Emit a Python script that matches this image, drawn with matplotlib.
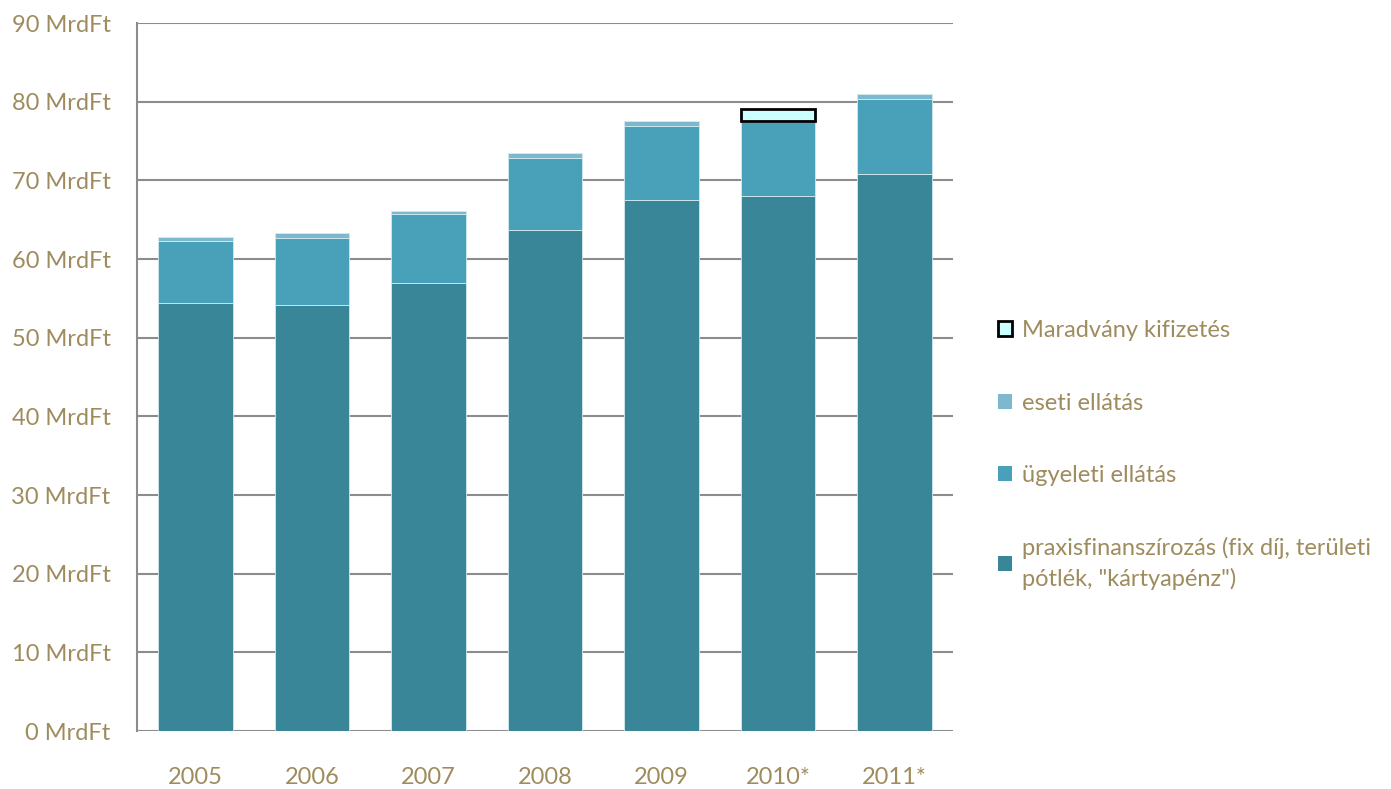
import matplotlib.pyplot as plt
import numpy as np
from matplotlib.patches import Patch

# Adatok (MrdFt)
evek = ['2005', '2006', '2007', '2008', '2009', '2010*', '2011*']
praxis = [54.4, 54.1, 56.9, 63.7, 67.5, 68.0, 70.85]
ugyeleti = [7.95, 8.6, 8.8, 9.2, 9.45, 9.4, 9.55]
eseti = [0.5, 0.55, 0.45, 0.55, 0.6, 0.4, 0.6]
maradvany = [0, 0, 0, 0, 0, 1.5, 0]

y_ticks = [0, 10, 20, 30, 40, 50, 60, 70, 80, 90]

szoveg_szin = '#9E8C5E'
c_praxis = '#3A8699'
c_ugy = '#48A1B9'
c_eseti = '#7DB9CE'
c_mar = '#CCFFFF'

plt.rcParams['font.family'] = ['Lato', 'DejaVu Sans']

fig = plt.figure(figsize=(13.91, 7.89), dpi=100)
ax = fig.add_axes([0.0985, 0.0735, 0.5865, 0.8973])

x = np.arange(len(evek))
w = 0.64
b1 = np.array(praxis)
b2 = b1 + np.array(ugyeleti)
b3 = b2 + np.array(eseti)

ax.bar(x, praxis, w, color=c_praxis, edgecolor='#d4eaf0', linewidth=0.6, zorder=3)
ax.bar(x, ugyeleti, w, bottom=b1, color=c_ugy, edgecolor='#d4eaf0', linewidth=0.6, zorder=3)
ax.bar(x, eseti, w, bottom=b2, color=c_eseti, edgecolor='#d4eaf0', linewidth=0.6, zorder=3)

# Maradvány csak ahol van érték
for i, m in enumerate(maradvany):
    if m > 0:
        ax.bar(x[i], m, w, bottom=b3[i] - 0.2, color=c_mar, edgecolor='black',
               linewidth=2, zorder=4)

ax.set_xlim(-0.5, len(evek) - 0.5)
ax.set_ylim(0, 90)
ax.set_yticks(y_ticks)
ax.set_yticklabels([f'{v} MrdFt' for v in y_ticks])
ax.set_xticks(x)
ax.set_xticklabels(evek)
ax.tick_params(axis='both', length=0, labelsize=17, labelcolor=szoveg_szin)
ax.tick_params(axis='y', pad=19)
ax.tick_params(axis='x', pad=26)

ax.grid(axis='y', color='#8c8c8c', linewidth=1.5, zorder=0)
for s in ['top', 'right', 'bottom']:
    ax.spines[s].set_visible(False)
ax.spines['left'].set_color('#8c8c8c')
ax.spines['left'].set_linewidth(1.5)

handles = [
    Patch(facecolor=c_mar, edgecolor='black', linewidth=2),
    Patch(facecolor=c_eseti, edgecolor='none'),
    Patch(facecolor=c_ugy, edgecolor='none'),
    Patch(facecolor=c_praxis, edgecolor='none'),
]
labels = [
    'Maradvány kifizetés',
    'eseti ellátás',
    'ügyeleti ellátás',
    'praxisfinanszírozás (fix díj, területi\npótlék, "kártyapénz")',
]
leg = fig.legend(handles, labels, loc='upper left', bbox_to_anchor=(0.7024, 0.621),
                 frameon=False, fontsize=17, labelcolor=szoveg_szin,
                 handlelength=0.6, handleheight=0.6, handletextpad=0.4,
                 labelspacing=2.17)
for t in leg.get_texts():
    t.set_linespacing(1.5)

fig.savefig('out.png', dpi=100)
